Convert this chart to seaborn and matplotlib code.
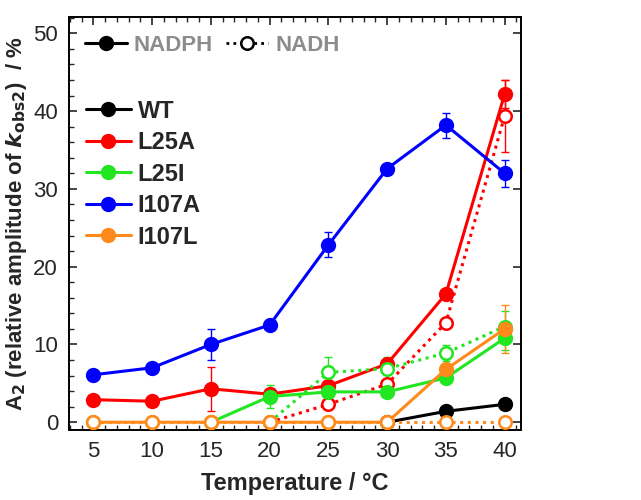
import numpy as np
import pandas as pd
import seaborn as sns
import matplotlib.pyplot as plt
from matplotlib.lines import Line2D
from matplotlib.ticker import MultipleLocator

sns.set_theme(style='ticks')
plt.rcParams['font.family'] = ['Liberation Sans Narrow', 'Liberation Sans', 'DejaVu Sans']

# data
temps = [5, 10, 15, 20, 25, 30, 35, 40]
nan = np.nan

wt_nadph = [nan, nan, nan, nan, nan, 0.0, 1.4, 2.3]
l25a_nadph = [2.9, 2.7, 4.3, 3.6, 4.7, 7.5, 16.5, 42.2]
l25a_nadph_err = [0, 0, 2.8, 0, 0, 0, 0, 1.8]
l25a_nadh = [nan, nan, nan, 0.0, 2.3, 4.9, 12.8, 39.4]
l25a_nadh_err = [0, 0, 0, 0, 0, 0, 0, 4.6]
l25i_nadph = [nan, nan, 0.0, 3.3, 3.9, 3.9, 5.7, 10.8]
l25i_nadph_err = [0, 0, 0, 1.5, 0, 0, 0, 1.5]
l25i_nadh = [nan, nan, nan, 0.0, 6.4, 6.9, 8.9, 12.3]
l25i_nadh_err = [0, 0, 0, 0, 2.0, 1.5, 1.0, 2.0]
i107a_nadph = [6.1, 7.0, 10.0, 12.5, 22.8, 32.6, 38.2, 32.0]
i107a_nadph_err = [0, 0, 2.0, 0, 1.6, 0, 1.6, 1.7]
i107l_nadph = [0.0, 0.0, 0.0, 0.0, 0.0, 0.0, 6.8, 12.0]
i107l_nadph_err = [0, 0, 0, 0, 0, 0, 0, 3.1]
i107l_nadh = [0.0, 0.0, 0.0, 0.0, 0.0, 0.0, 0.0, 0.0]

variants = ['WT', 'L25A', 'L25I', 'I107A', 'I107L']
colors = {'WT': 'black', 'L25A': '#ff0000', 'L25I': '#22e622',
          'I107A': '#0000ff', 'I107L': '#ff8a1c'}

# (variant, cofactor, values, errors) in drawing order
series = [
    ('WT', 'NADPH', wt_nadph, None),
    ('L25A', 'NADPH', l25a_nadph, l25a_nadph_err),
    ('L25A', 'NADH', l25a_nadh, l25a_nadh_err),
    ('L25I', 'NADPH', l25i_nadph, l25i_nadph_err),
    ('L25I', 'NADH', l25i_nadh, l25i_nadh_err),
    ('I107A', 'NADPH', i107a_nadph, i107a_nadph_err),
    ('I107L', 'NADPH', i107l_nadph, i107l_nadph_err),
    ('I107L', 'NADH', i107l_nadh, None),
]

fig = plt.figure(figsize=(6.41, 5.0), dpi=100)
ax = fig.add_axes([0.108, 0.14, 0.705, 0.826])

for var, cof, vals, errs in series:
    c = colors[var]
    df = pd.DataFrame({'temp': temps, 'val': vals})
    if errs is not None:
        df['err'] = errs
    df = df.dropna(subset=['val'])
    if errs is not None:
        e = df[df['err'] > 0]
        ax.errorbar(e['temp'], e['val'], yerr=e['err'], fmt='none', ecolor=c,
                    elinewidth=1.0, capsize=3, capthick=1.0, zorder=2)
    if cof == 'NADPH':
        sns.lineplot(data=df, x='temp', y='val', ax=ax, color=c, linewidth=2.2,
                     marker='o', markersize=10, markeredgecolor=c,
                     markerfacecolor=c, markeredgewidth=1.0, zorder=3)
    else:
        sns.lineplot(data=df, x='temp', y='val', ax=ax, color=c, linewidth=2.2,
                     linestyle=(0, (1, 1.5)), marker='o', markersize=9,
                     markeredgecolor=c, markerfacecolor='white',
                     markeredgewidth=1.8, zorder=3)

ax.set_xlim(2.95, 41.4)
ax.set_ylim(-1.0, 52.1)
ax.xaxis.set_major_locator(MultipleLocator(5))
ax.xaxis.set_minor_locator(MultipleLocator(1))
ax.yaxis.set_major_locator(MultipleLocator(10))
ax.yaxis.set_minor_locator(MultipleLocator(2))
ax.tick_params(axis='both', which='major', direction='in', length=6, width=1.2,
               labelsize=16, top=True, right=True, pad=8)
ax.tick_params(axis='x', which='minor', direction='in', length=3.5, width=1, top=True)
ax.tick_params(axis='y', which='minor', direction='in', length=3.5, width=1, right=False)
for s in ax.spines.values():
    s.set_linewidth(1.4)
    s.set_color('black')

ax.set_xlabel('Temperature / °C', fontsize=17, fontweight='bold', labelpad=7)
ax.set_ylabel(r'A$_\mathbf{2}$ (relative amplitude of $\boldsymbol{k}_\mathbf{obs2}$)  / %',
              fontsize=16, fontweight='bold', labelpad=3)
try:
    fig.canvas.draw()
except Exception:
    ax.set_ylabel(r'A$_\mathbf{2}$ (relative amplitude of $\mathbf{\mathit{k}}_\mathbf{obs2}$)  / %',
                  fontsize=16, fontweight='bold', labelpad=3)

# cofactor legend
cof_handles = [
    Line2D([], [], color='black', linewidth=2.2, marker='o', markersize=10),
    Line2D([], [], color='black', linewidth=2.0, linestyle=(0, (1, 1.5)), marker='o',
           markersize=9, markerfacecolor='white', markeredgewidth=1.8),
]
leg1 = ax.legend(cof_handles, ['NADPH', 'NADH'], loc='upper left', ncol=2,
                 bbox_to_anchor=(0.0, 0.995), frameon=False, handlelength=1.9,
                 handletextpad=0.3, columnspacing=0.6, borderaxespad=0.3,
                 prop={'size': 16, 'weight': 'bold'})
for t in leg1.get_texts():
    t.set_color('#8c8c8c')
ax.add_artist(leg1)

var_handles = [Line2D([], [], color=colors[v], linewidth=2.2, marker='o', markersize=10)
               for v in variants]
ax.legend(var_handles, variants, loc='upper left', bbox_to_anchor=(0.0, 0.84),
          frameon=False, handlelength=1.9, handletextpad=0.3, labelspacing=0.36,
          borderaxespad=0.3, prop={'size': 17, 'weight': 'bold'})

fig.savefig('out.png', dpi=100)
